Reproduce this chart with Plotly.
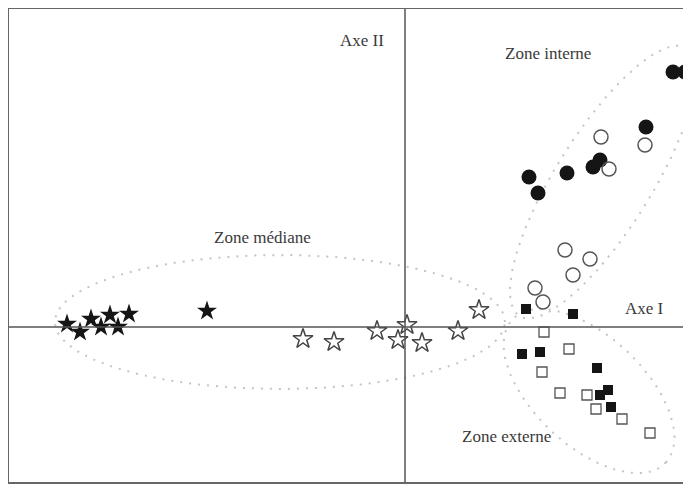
import numpy as np
import plotly.graph_objects as go

# Scores (Axe I, Axe II)
star_filled_x = [-3.38, -3.25, -3.14, -3.04, -2.95, -2.87, -2.76, -1.98]
star_filled_y = [0.03, -0.05, 0.08, 0.00, 0.12, 0.00, 0.13, 0.16]
star_open_x = [-1.02, -0.71, -0.28, -0.07, 0.02, 0.17, 0.53, 0.74]
star_open_y = [-0.12, -0.15, -0.04, -0.13, 0.02, -0.16, -0.04, 0.17]
circ_filled_x = [2.68, 2.80, 2.41, 1.62, 1.24, 1.33, 1.88, 1.95]
circ_filled_y = [2.55, 2.55, 2.00, 1.54, 1.50, 1.34, 1.60, 1.67]
circ_open_x = [1.96, 2.40, 2.04, 1.60, 1.85, 1.68, 1.30, 1.38]
circ_open_y = [1.90, 1.82, 1.58, 0.77, 0.68, 0.52, 0.39, 0.25]
sq_filled_x = [1.21, 1.68, 1.17, 1.35, 1.92, 2.03, 1.95, 2.06]
sq_filled_y = [0.18, 0.13, -0.27, -0.25, -0.41, -0.63, -0.68, -0.80]
sq_open_x = [1.39, 1.64, 1.37, 1.55, 1.82, 1.91, 2.17, 2.45]
sq_open_y = [-0.05, -0.22, -0.45, -0.66, -0.68, -0.82, -0.92, -1.06]

# Zones: centre x, centre y, semi-axis a, semi-axis b, angle (deg)
zone_names = ["Zone médiane", "Zone interne", "Zone externe"]
zone_cx = [-1.25, 1.98, 1.84]
zone_cy = [0.05, 1.45, -0.64]
zone_a = [2.25, 1.58, 1.05]
zone_b = [0.67, 0.48, 0.55]
zone_ang = [0, 58, -43]

fig = go.Figure()

t = np.linspace(0, 2 * np.pi, 200)
for cx, cy, a, b, ang in zip(zone_cx, zone_cy, zone_a, zone_b, zone_ang):
    th = np.radians(ang)
    ex = cx + a * np.cos(t) * np.cos(th) - b * np.sin(t) * np.sin(th)
    ey = cy + a * np.cos(t) * np.sin(th) + b * np.sin(t) * np.cos(th)
    fig.add_trace(go.Scatter(x=ex, y=ey, mode="lines", hoverinfo="skip",
                             line=dict(color="#c4c4c4", width=2, dash="2px,7px")))

dark = "#151515"
edge = "#444444"
fig.add_trace(go.Scatter(x=star_filled_x, y=star_filled_y, mode="markers",
                         marker=dict(symbol="star", size=15, color=dark, line=dict(width=0))))
fig.add_trace(go.Scatter(x=star_open_x, y=star_open_y, mode="markers",
                         marker=dict(symbol="star-open", size=15, color=edge, line=dict(width=1.5))))
fig.add_trace(go.Scatter(x=circ_filled_x, y=circ_filled_y, mode="markers",
                         marker=dict(symbol="circle", size=15, color=dark, line=dict(width=0))))
fig.add_trace(go.Scatter(x=circ_open_x, y=circ_open_y, mode="markers",
                         marker=dict(symbol="circle-open", size=14, color="#555555", line=dict(width=1.5))))
fig.add_trace(go.Scatter(x=sq_filled_x, y=sq_filled_y, mode="markers",
                         marker=dict(symbol="square", size=10, color=dark, line=dict(width=0))))
fig.add_trace(go.Scatter(x=sq_open_x, y=sq_open_y, mode="markers",
                         marker=dict(symbol="square-open", size=10, color="#555555", line=dict(width=1.3))))

XR = [-3.96, 2.86]
YR = [-1.55, 3.18]

# Principal axes
fig.add_shape(type="line", x0=0, x1=0, y0=YR[0], y1=YR[1], line=dict(color="#555555", width=1.5))
fig.add_shape(type="line", x0=XR[0], x1=XR[1], y0=0, y1=0, line=dict(color="#555555", width=1.5))

font = dict(family="Liberation Serif, Times New Roman, serif", size=17, color="#3a3a3a")
labels = [("Axe II", -0.43, 2.87), ("Zone interne", 1.43, 2.74), ("Zone médiane", -1.43, 0.90),
          ("Axe I", 2.39, 0.19), ("Zone externe", 1.01, -1.09)]
for txt, x, y in labels:
    fig.add_annotation(x=x, y=y, text=txt, showarrow=False, font=font)

# The page body keeps an 8 px margin, so the figure is sized to the space left.
fig.update_layout(
    width=683, height=480, showlegend=False,
    margin=dict(l=1, r=0, t=1, b=6),
    paper_bgcolor="white", plot_bgcolor="white",
    xaxis=dict(range=XR, showgrid=False, zeroline=False, showticklabels=False,
               ticks="", showline=True, mirror=True, linecolor="#666666", linewidth=1.5),
    yaxis=dict(range=YR, showgrid=False, zeroline=False, showticklabels=False,
               ticks="", showline=True, mirror=False, linecolor="#666666", linewidth=1.5),
)

fig.write_html("out.html")
